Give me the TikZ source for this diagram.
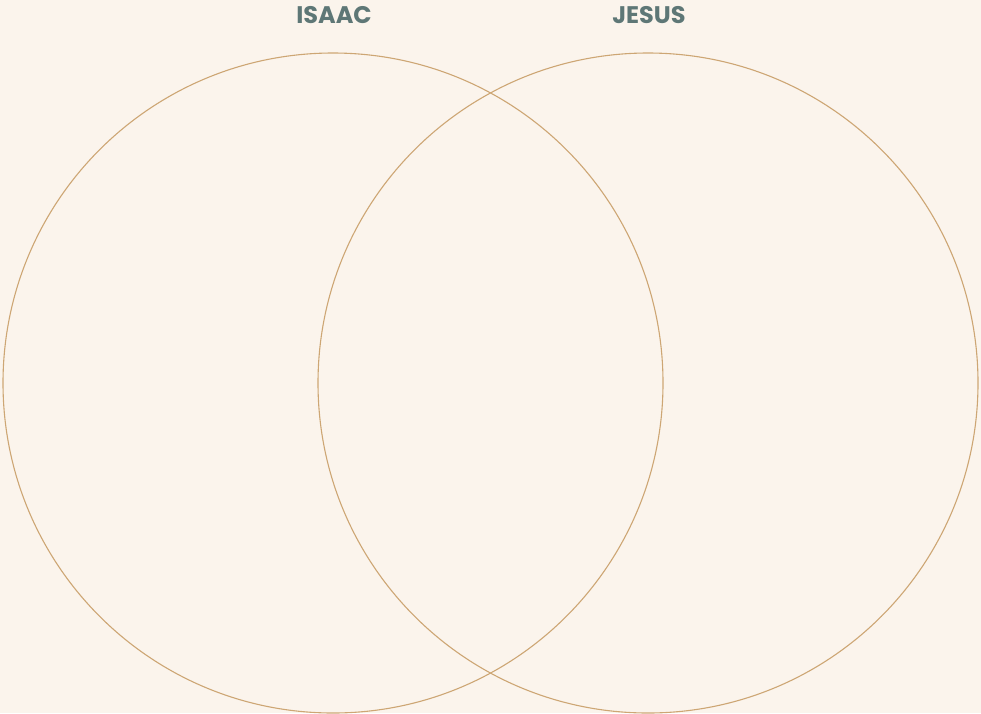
\documentclass[tikz,border=0pt]{standalone}
\usepackage{fontspec}
\setsansfont{Poppins}
\usetikzlibrary{positioning}
\definecolor{palCream}{HTML}{FBF4EC}
\definecolor{palSand}{HTML}{CDA674}
\definecolor{palSlate}{HTML}{5E7776}

\begin{document}
\begin{tikzpicture}[
  x=1pt, y=-1pt,
  font=\sffamily\bfseries\fontsize{24}{28}\selectfont,
  ring/.style={draw=palSand, line width=1.1pt, circle, minimum size=660pt, inner sep=0pt},
  title/.style={text=palSlate, inner sep=0pt, anchor=base},
]
\fill[palCream] (0,0) rectangle (981,713);
\useasboundingbox (0,0) rectangle (981,713);

\node[ring] (isaac) at (333,383) {};
\node[ring] (jesus) at (648,383) {};

\node[title] (isaacname) at (334,23.5) {ISAAC};
\node[title] (jesusname) at (649,23.5) {JESUS};
\end{tikzpicture}
\end{document}
